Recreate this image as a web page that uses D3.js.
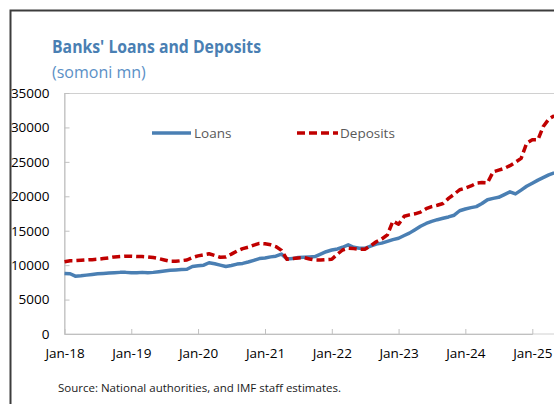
<!DOCTYPE html>
<html><head><meta charset="utf-8">
<script src="https://cdn.jsdelivr.net/npm/d3@7"></script>
<style>html,body{margin:0;padding:0;background:#fff;overflow:hidden}</style>
</head><body>
<script>
const startYear = 2018, startMonth = 0;
const loans = [8800,8750,8400,8450,8550,8650,8750,8800,8850,8900,8950,8950,
8900,8900,8950,8900,8950,9050,9150,9250,9300,9350,9400,9800,
9900,10000,10350,10200,10000,9800,9950,10150,10250,10450,10700,10950,
11050,11200,11300,11600,10900,10950,11100,11150,11200,11250,11600,11950,
12200,12350,12600,12950,12600,12450,12450,12750,13050,13200,13450,13700,
13900,14300,14650,15150,15650,16050,16350,16600,16800,17000,17250,17900,
18150,18350,18500,18950,19500,19700,19850,20250,20650,20350,20900,21450,
21900,22350,22700,23100,23400];
const deposits = [10500,10650,10650,10700,10750,10800,10850,10950,11050,11200,11250,11300,
11300,11250,11250,11200,11100,10950,10750,10550,10550,10650,10750,11100,
11350,11500,11650,11400,11150,11200,11600,12050,12400,12600,12900,13150,
13100,12950,12700,12150,10850,10950,11050,11100,10900,10750,10750,10800,
10850,11600,12200,12450,12400,12300,12300,12800,13400,13800,14400,16400,
15950,17100,17300,17450,17700,18200,18500,18700,18950,19700,20300,20950,
21200,21500,21900,22000,21950,23550,23800,24050,24450,24950,25500,27700,
28200,28200,30100,31200,31700];
const yTicks = [0,5000,10000,15000,20000,25000,30000,35000];
const xTickYears = [2018,2019,2020,2021,2022,2023,2024,2025];
const seriesNames = ["Loans","Deposits"];

const W = 554, H = 404;
const svg = d3.select("body").append("svg").attr("width",W).attr("height",H)
  .style("font-family","'Open Sans', sans-serif");
svg.append("rect").attr("width",W).attr("height",H).attr("fill","#fff");

const x = d3.scaleTime().domain([new Date(2018,0,1), new Date(2025,0,1)]).range([64.5,532.3]);
const y = d3.scaleLinear().domain([0,35000]).range([334,93]);

// frame
svg.append("path").attr("d",`M10.5,${H} V10.5 H${W}`).attr("fill","none")
  .attr("stroke","#3c3c3c").attr("stroke-width",2);

// plot border
svg.append("rect").attr("x",64.5).attr("y",93.5).attr("width",520).attr("height",240.5)
  .attr("fill","none").attr("stroke","#d0d0d0").attr("stroke-width",1);

// y axis
const ya = svg.append("g").attr("transform","translate(64.5,0)")
  .call(d3.axisLeft(y).tickValues(yTicks).tickSizeInner(-5).tickSizeOuter(0).tickPadding(15).tickFormat(d3.format("d")));
ya.select(".domain").attr("stroke","#c0c0c0");
ya.selectAll(".tick line").attr("stroke","#c0c0c0");
ya.selectAll(".tick text").attr("font-size",13.5).attr("fill","#000").attr("font-family","'Open Sans', sans-serif");

// x axis
const fmt = d3.timeFormat("%b-%y");
const xa = svg.append("g").attr("transform","translate(0,334)")
  .call(d3.axisBottom(x).tickValues(xTickYears.map(yr=>new Date(yr,0,1))).tickSizeInner(-5).tickSizeOuter(0).tickPadding(14).tickFormat(fmt));
xa.select(".domain").attr("stroke","#c0c0c0");
xa.selectAll(".tick line").attr("stroke","#c0c0c0");
xa.selectAll(".tick text").attr("font-size",13.5).attr("fill","#000").attr("font-family","'Open Sans', sans-serif");

const dateOf = i => new Date(startYear, startMonth + i, 1);
const line = d3.line().x((d,i)=>x(dateOf(i))).y(d=>y(d)).curve(d3.curveLinear);

svg.append("path").datum(loans).attr("d",line).attr("fill","none")
  .attr("stroke","#4a7fb3").attr("stroke-width",3.5).attr("stroke-linejoin","round");
svg.append("path").datum(deposits).attr("d",line).attr("fill","none")
  .attr("stroke","#c00000").attr("stroke-width",3.5).attr("stroke-dasharray","8,4").attr("stroke-linejoin","round");

// legend
const lg = svg.append("g");
lg.append("line").attr("x1",152).attr("x2",191).attr("y1",133).attr("y2",133)
  .attr("stroke","#4a7fb3").attr("stroke-width",3.5);
lg.append("text").attr("x",194).attr("y",137.5).text(seriesNames[0])
  .attr("font-size",13.5).attr("fill","#595959");
lg.append("line").attr("x1",297).attr("x2",338).attr("y1",133).attr("y2",133)
  .attr("stroke","#c00000").attr("stroke-width",3.5).attr("stroke-dasharray","8,4");
lg.append("text").attr("x",340).attr("y",137.5).text(seriesNames[1])
  .attr("font-size",13.5).attr("fill","#595959");

// titles
svg.append("text").attr("x",52).attr("y",52.5).text("Banks' Loans and Deposits")
  .attr("font-size",18).attr("font-weight","bold").attr("fill","#4a7fb3")
  .attr("textLength",209).attr("lengthAdjust","spacingAndGlyphs");
svg.append("text").attr("x",52).attr("y",77.5).text("(somoni mn)")
  .attr("font-size",16).attr("fill","#5b90c6");

svg.append("text").attr("x",58).attr("y",392).text("Source: National authorities, and IMF staff estimates.")
  .attr("font-size",11.5).attr("fill","#1a1a1a");
</script>
</body></html>
